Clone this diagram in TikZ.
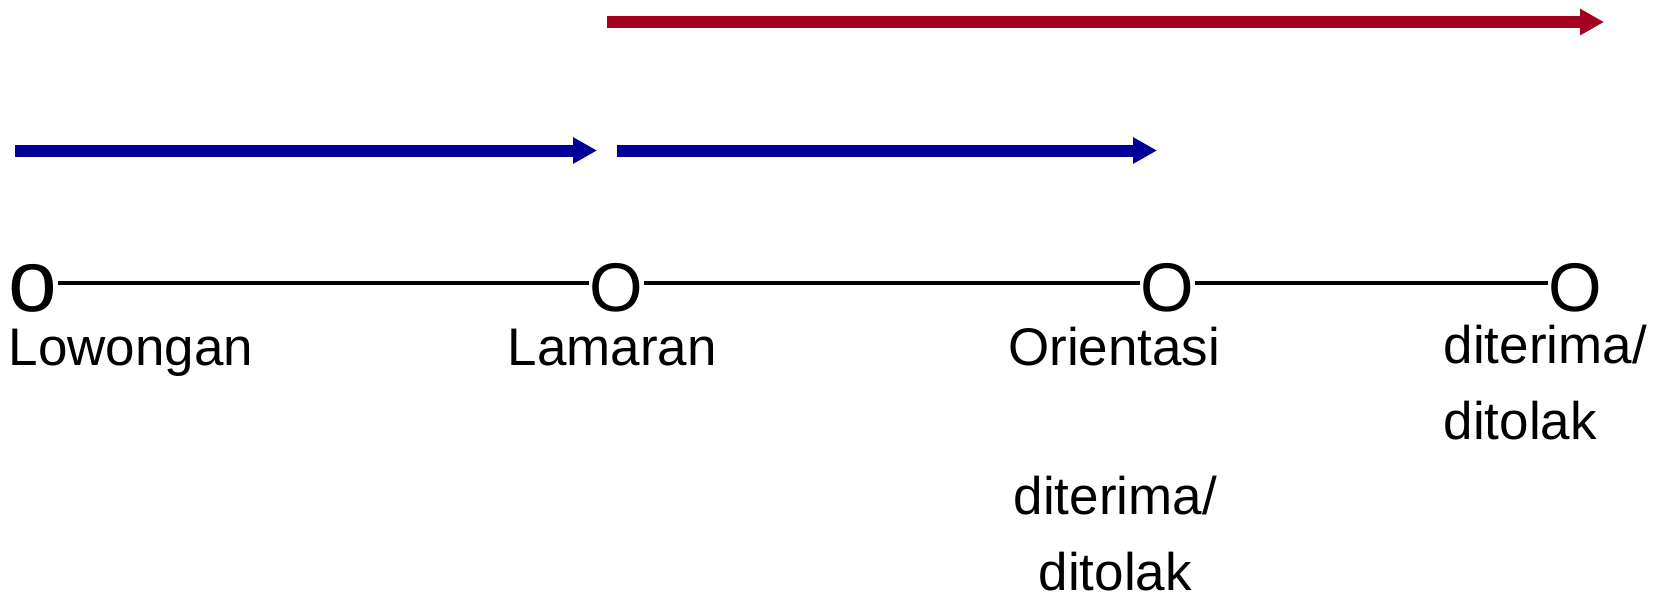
\documentclass[tikz,border=0pt]{standalone}
\usepackage{fontspec}
\setmainfont{Liberation Sans}
\usetikzlibrary{arrows.meta}

\definecolor{timeblue}{RGB}{0,0,153}
\definecolor{timered}{RGB}{165,0,33}

\begin{document}
\begin{tikzpicture}
  [x=1cm, y=-1cm]
  \tikzstyle{point} = [inner sep=0pt, text height=0.56cm, text depth=0cm, font=\fontsize{19.6pt}{20pt}\selectfont];
  \tikzstyle{first_point} = [point, font=\fontsize{24.9pt}{25pt}\selectfont];
  \tikzstyle{stage} = [anchor=base west, inner sep=0pt, font=\fontsize{15.07pt}{21.6pt}\selectfont];
  \tikzstyle{span} = [line width=0.12cm, -{Triangle[length=0.24cm, width=0.25cm]}];
  \tikzstyle{blue_span} = [span, draw=timeblue];
  \tikzstyle{red_span}  = [span, draw=timered];

  \useasboundingbox (0, 0) rectangle (16.65, 5.99);

  % points on the time line
  \node[first_point] (lowongan) at (0.325, 2.83) {o};
  \node[point] (lamaran)   at (6.16, 2.83)   {O};
  \node[point] (orientasi) at (11.675, 2.83) {O};
  \node[point] (akhir)     at (15.75, 2.83)  {O};

  \draw[line width=0.045cm] (lowongan) -- (lamaran) -- (orientasi) -- (akhir);

  % labels, base is the last line
  \node[stage] (lowongan_text)  at (0.08, 3.65)   {Lowongan};
  \node[stage] (lamaran_text)   at (5.07, 3.65)   {Lamaran};
  \node[stage] (orientasi_text) at (10.075, 3.65) {Orientasi};
  \node[stage, align=left] (akhir_text) at (14.43, 4.39) {diterima/\\ditolak};
  \node[stage, align=center] (hasil_text) at (10.13, 5.90) {diterima/\\ditolak};

  % spans above the line
  \coordinate (b1_start) at (0.15, 1.505);
  \coordinate (b1_end)   at (5.97, 1.505);
  \coordinate (b2_start) at (6.17, 1.505);
  \coordinate (b2_end)   at (11.57, 1.505);
  \coordinate (r_start)  at (6.07, 0.22);
  \coordinate (r_end)    at (16.04, 0.22);

  \draw[blue_span] (b1_start) -- (b1_end);
  \draw[blue_span] (b2_start) -- (b2_end);
  \draw[red_span]  (r_start) -- (r_end);

\end{tikzpicture}
\end{document}
